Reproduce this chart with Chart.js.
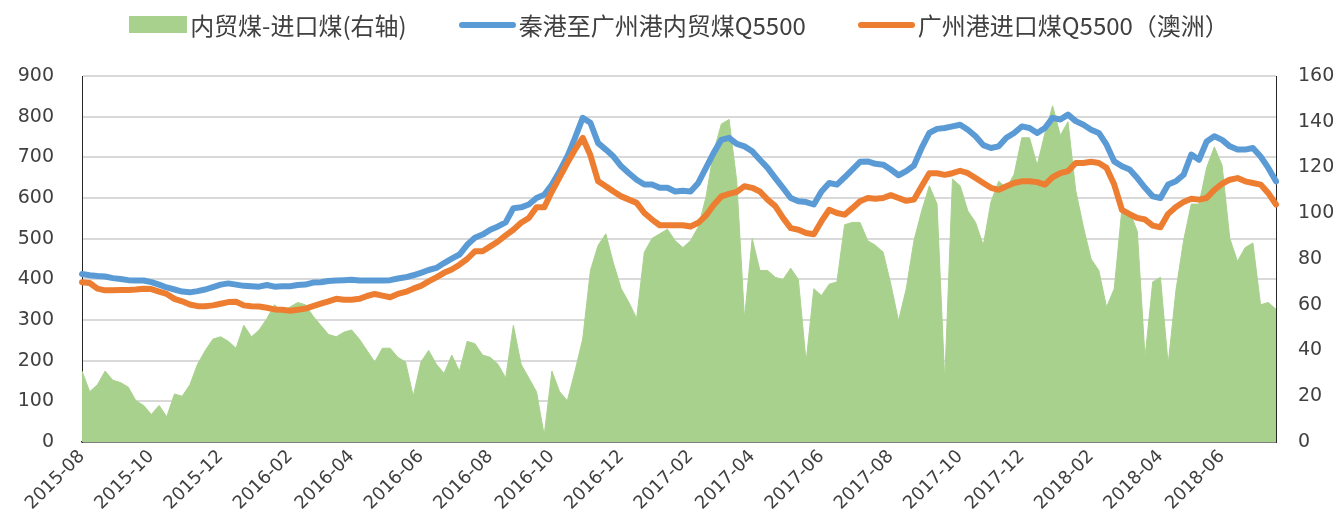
<!DOCTYPE html>
<html>
<head>
<meta charset="utf-8">
<title>内贸煤与进口煤价格</title>
<script src="https://cdn.jsdelivr.net/npm/chart.js@4.4.1/dist/chart.umd.min.js"></script>
<style>
    body { margin: 0; background: #fff; }
    #wrap { position: relative; width: 1340px; height: 532px; }
    #legend {
        position: absolute; top: 7px; left: 0; width: 1322px; padding-left: 18px;
        display: flex; justify-content: center; align-items: center;
        font-family: "Noto Sans CJK SC", sans-serif; font-size: 24px; color: #404040;
    }
    .item { display: flex; align-items: center; margin: 0 26px; white-space: nowrap; }
    .box { width: 58px; height: 17px; margin-right: 3px; }
    .ln { width: 57px; height: 6px; border-radius: 3px; margin-right: 3px; }
</style>
</head>
<body>
<div id="wrap">
    <div id="legend"></div>
    <canvas id="coalChart"></canvas>
</div>
<script>
// weekly samples, first week starting 2015-08-01
const seriesNames = ['内贸煤-进口煤(右轴)', '秦港至广州港内贸煤Q5500', '广州港进口煤Q5500（澳洲）'];
const seriesColors = ['#A9D18E', '#5B9BD5', '#ED7D31'];
const tickLabels = ['2015-08', '2015-10', '2015-12', '2016-02', '2016-04', '2016-06', '2016-08', '2016-10',
    '2016-12', '2017-02', '2017-04', '2017-06', '2017-08', '2017-10', '2017-12', '2018-02', '2018-04', '2018-06'];

// 秦港至广州港内贸煤Q5500 (left axis)
const domesticQ5500 = [
    413, 410, 408, 407, 403, 401, 398, 397, 397, 393, 387, 380, 375, 370, 368, 371, 375, 381, 387, 390, 387, 384, 383, 382, 386, 382,
    383, 383, 386, 387, 392, 393, 396, 397, 398, 399, 397, 397, 397, 397, 398, 402, 405, 410, 416, 423, 428, 440, 451, 461, 485, 502,
    510, 522, 530, 540, 575, 577, 584, 600, 608, 633, 666, 702, 748, 797, 785, 735, 719, 702, 678, 661, 645, 633, 633, 625, 625, 616,
    618, 616, 637, 674, 711, 743, 748, 733, 727, 715, 694, 674, 649, 625, 600, 592, 590, 584, 616, 637, 633, 651, 670, 689, 690, 684,
    682, 670, 656, 666, 680, 723, 760, 770, 772, 776, 780, 768, 752, 730, 723, 727, 748, 760, 776, 772, 760, 772, 797, 793, 805, 789,
    780, 768, 760, 731, 690, 678, 670, 649, 625, 604, 600, 633, 641, 657, 707, 694, 739, 752, 743, 727, 719, 719, 723, 702, 674, 641
];

// 广州港进口煤Q5500（澳洲） (left axis)
const importQ5500 = [
    393, 391, 377, 373, 373, 374, 374, 375, 377, 376, 370, 364, 352, 346, 338, 334, 334, 336, 340, 344, 345, 336, 334, 333, 330, 326,
    325, 323, 325, 328, 334, 340, 346, 352, 350, 350, 352, 359, 364, 360, 356, 364, 369, 377, 384, 395, 405, 416, 424, 436, 450, 469,
    469, 481, 493, 508, 522, 539, 551, 577, 577, 616, 651, 686, 719, 748, 705, 641, 629, 616, 604, 596, 588, 563, 547, 533, 533, 533,
    533, 530, 539, 557, 583, 604, 610, 615, 629, 625, 616, 596, 580, 551, 526, 522, 514, 511, 543, 571, 563, 559, 575, 592, 600, 598,
    600, 607, 600, 593, 596, 629, 661, 661, 657, 661, 667, 661, 649, 637, 625, 620, 629, 637, 641, 641, 639, 633, 651, 661, 666, 686,
    686, 689, 686, 674, 633, 571, 560, 551, 547, 532, 528, 561, 578, 590, 598, 596, 600, 620, 635, 645, 649, 641, 637, 633, 612, 584
];

// 内贸煤-进口煤 spread (right axis)
const priceSpread = [
    31, 22, 25, 31, 27, 26, 24, 18, 16, 12, 16, 11, 21, 20, 25, 34, 40, 45, 46, 44, 41, 51, 46, 49, 54, 60,
    57, 59, 61, 60, 55, 51, 47, 46, 48, 49, 45, 40, 35, 41, 41, 37, 35, 20, 35, 40, 34, 30, 38, 31, 44, 43,
    38, 37, 34, 28, 51, 34, 28, 22, 3, 31, 22, 18, 31, 45, 75, 86, 91, 78, 67, 61, 54, 83, 89, 91, 93, 88,
    85, 88, 94, 107, 127, 139, 141, 114, 54, 89, 75, 75, 72, 71, 76, 71, 35, 67, 64, 69, 70, 95, 96, 96, 88, 86,
    83, 69, 53, 67, 88, 101, 112, 104, 27, 115, 112, 101, 96, 86, 105, 114, 111, 117, 133, 133, 121, 135, 147, 134, 140, 110,
    94, 80, 75, 59, 67, 102, 101, 92, 37, 70, 72, 34, 66, 88, 104, 104, 120, 129, 121, 89, 79, 85, 87, 60, 61, 58
];

const weekMonths = domesticQ5500.map((_, i) => new Date(Date.UTC(2015, 7, 1 + i * 7)).toISOString().slice(0, 7));

// html legend
const legendEl = document.getElementById('legend');
seriesNames.forEach((name, i) => {
    const item = document.createElement('div');
    item.className = 'item';
    const mark = document.createElement('span');
    mark.className = i === 0 ? 'box' : 'ln';
    mark.style.background = seriesColors[i];
    const text = document.createElement('span');
    text.textContent = name;
    item.appendChild(mark);
    item.appendChild(text);
    legendEl.appendChild(item);
});

const tickFont = { family: '"DejaVu Sans", sans-serif', size: 19 };

new Chart(document.getElementById('coalChart'), {
    type: 'line',
    data: {
        labels: weekMonths,
        datasets: [
            {
                label: seriesNames[0],
                data: priceSpread,
                yAxisID: 'y1',
                fill: 'origin',
                backgroundColor: seriesColors[0],
                borderColor: seriesColors[0],
                borderWidth: 1,
                pointRadius: 0,
                tension: 0,
                order: 3
            },
            {
                label: seriesNames[1],
                data: domesticQ5500,
                yAxisID: 'y',
                borderColor: seriesColors[1],
                borderWidth: 6,
                borderJoinStyle: 'round',
                borderCapStyle: 'round',
                pointRadius: 0,
                fill: false,
                order: 2
            },
            {
                label: seriesNames[2],
                data: importQ5500,
                yAxisID: 'y',
                borderColor: seriesColors[2],
                borderWidth: 6,
                borderJoinStyle: 'round',
                borderCapStyle: 'round',
                pointRadius: 0,
                fill: false,
                order: 1
            }
        ]
    },
    options: {
        responsive: true,
        maintainAspectRatio: false,
        animation: false,
        layout: { padding: { top: 76, left: 2, right: 0, bottom: 0 } },
        plugins: {
            legend: { display: false },
            tooltip: { enabled: false }
        },
        scales: {
            x: {
                grid: { display: false, drawTicks: false },
                border: { display: true, color: '#262626', width: 1.5 },
                ticks: {
                    autoSkip: false,
                    maxRotation: 45,
                    minRotation: 45,
                    padding: 4,
                    color: '#404040',
                    font: { family: '"DejaVu Sans", sans-serif', size: 18 },
                    callback: function (value, index) {
                        const m = this.getLabelForValue(value);
                        const isFirst = index === 0 || weekMonths[index - 1] !== m;
                        return isFirst && tickLabels.includes(m) ? m : '';
                    }
                },
                afterFit: scale => { scale.height = 90; }
            },
            y: {
                position: 'left',
                min: 0,
                max: 900,
                ticks: { stepSize: 100, padding: 28, color: '#404040', font: tickFont },
                grid: { color: '#D9D9D9', lineWidth: 2, drawTicks: false },
                border: { display: true, color: '#262626', width: 1 },
                afterFit: scale => { scale.width = 80; }
            },
            y1: {
                position: 'right',
                min: 0,
                max: 160,
                ticks: { stepSize: 20, padding: 22, color: '#404040', font: tickFont },
                grid: { drawOnChartArea: false, drawTicks: false },
                border: { display: true, color: '#262626', width: 1 },
                afterFit: scale => { scale.width = 64; }
            }
        }
    }
});
</script>
</body>
</html>
